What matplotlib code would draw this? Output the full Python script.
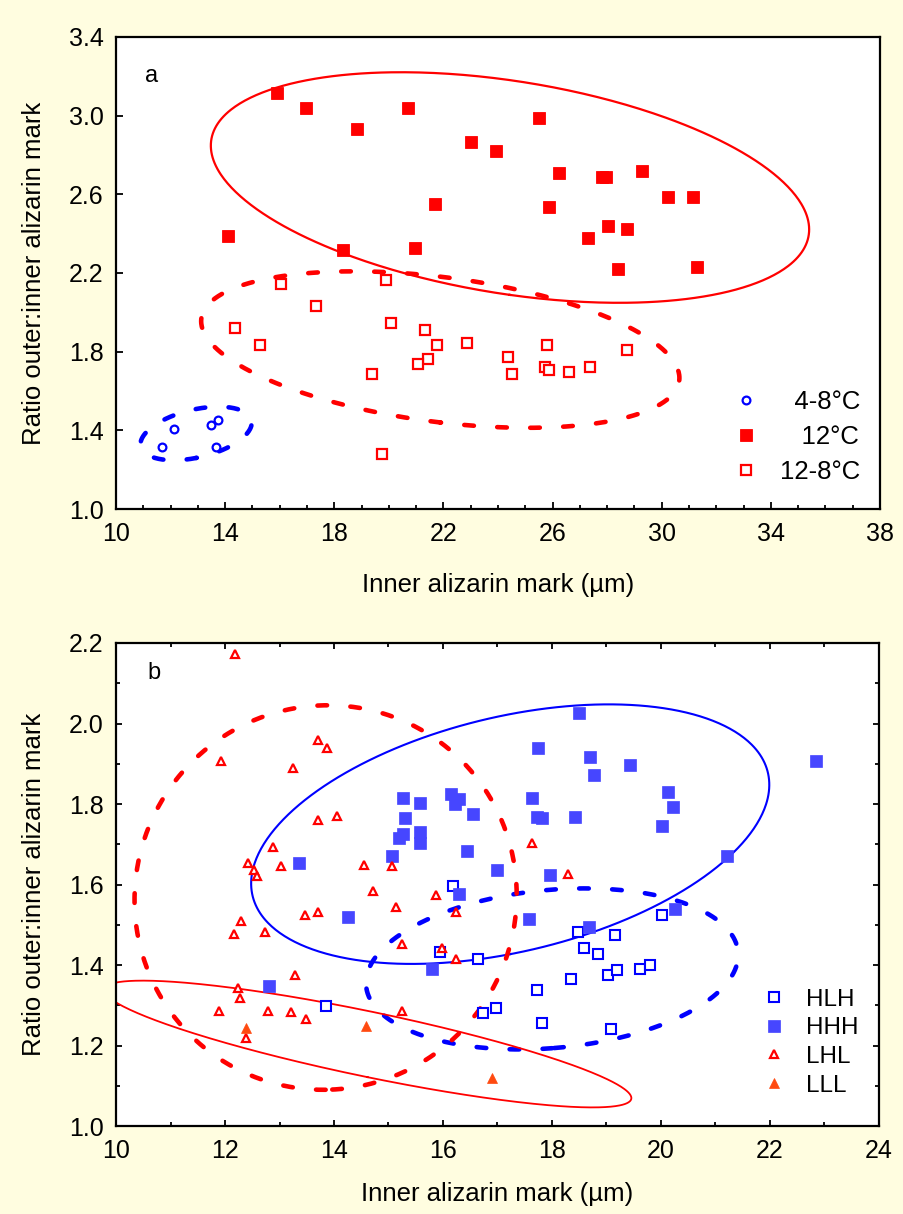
import numpy as np
import matplotlib
matplotlib.use('Agg')
import matplotlib.pyplot as plt
from matplotlib.lines import Line2D
from matplotlib.ticker import MultipleLocator, FormatStrFormatter

plt.rcParams['font.family'] = ['Liberation Sans', 'DejaVu Sans']

# ---------------- Panel a data ----------------
a_48_x = [11.69, 12.14, 13.47, 13.73, 13.65]
a_48_y = [1.317, 1.405, 1.429, 1.452, 1.317]

a_12_x = [15.89, 16.96, 18.82, 20.71, 23.01, 21.69, 14.12, 18.31, 20.96, 25.51,
          23.92, 26.23, 27.80, 27.95, 29.27, 30.24, 31.13, 25.87, 28.02, 28.72,
          27.30, 28.38, 31.30]
a_12_y = [3.117, 3.04, 2.93, 3.04, 2.866, 2.55, 2.39, 2.317, 2.327, 2.99,
          2.82, 2.71, 2.69, 2.69, 2.72, 2.585, 2.585, 2.535, 2.44, 2.425,
          2.38, 2.22, 2.23]

a_128_x = [16.05, 19.89, 17.32, 14.37, 15.28, 20.08, 21.32, 21.78, 22.85, 21.43,
           21.08, 19.39, 19.75, 24.36, 24.52, 25.79, 25.72, 25.88, 26.59, 27.39,
           28.74]
a_128_y = [2.142, 2.164, 2.03, 1.92, 1.833, 1.944, 1.908, 1.832, 1.846, 1.761,
           1.736, 1.686, 1.28, 1.771, 1.685, 1.832, 1.72, 1.707, 1.697, 1.72,
           1.81]

a_labels = ['4-8°C', '12°C', '12-8°C']
a_xticks = [10, 14, 18, 22, 26, 30, 34, 38]
a_yticks = [1.0, 1.4, 1.8, 2.2, 2.6, 3.0, 3.4]

# ---------------- Panel b data ----------------
b_hlh_x = [16.19, 15.94, 16.65, 13.86, 16.73, 16.97, 20.01, 18.48, 19.16, 18.59,
           18.84, 18.34, 19.02, 19.20, 19.62, 19.80, 17.72, 17.82, 19.09]
b_hlh_y = [1.597, 1.432, 1.414, 1.298, 1.280, 1.294, 1.523, 1.481, 1.475, 1.442,
           1.428, 1.366, 1.376, 1.388, 1.389, 1.399, 1.337, 1.255, 1.241]

b_hhh_x = [15.27, 15.58, 16.15, 16.22, 16.30, 15.31, 15.27, 15.20, 15.58, 15.58,
           16.55, 16.44, 15.06, 13.36, 16.99, 18.49, 17.75, 18.70, 18.77, 19.44,
           20.12, 20.22, 20.01, 22.84, 21.21, 17.64, 17.72, 17.82, 18.42, 17.96,
           14.25, 16.30, 15.80, 12.80, 17.58, 18.67, 20.26]
b_hhh_y = [1.816, 1.802, 1.826, 1.800, 1.812, 1.764, 1.726, 1.716, 1.730, 1.703,
           1.774, 1.682, 1.672, 1.653, 1.635, 2.027, 1.940, 1.916, 1.872, 1.897,
           1.830, 1.792, 1.745, 1.907, 1.672, 1.816, 1.768, 1.764, 1.768, 1.624,
           1.519, 1.577, 1.390, 1.347, 1.514, 1.494, 1.539]

b_lhl_x = [12.18, 11.93, 13.70, 13.88, 13.24, 13.70, 14.06, 12.88, 12.42, 12.53,
           12.59, 13.03, 14.55, 15.07, 17.63, 18.29, 14.72, 15.88, 16.24, 15.14,
           13.46, 13.70, 12.29, 12.17, 12.74, 15.25, 15.99, 16.24, 13.28, 12.24,
           12.28, 11.89, 12.78, 13.21, 13.49, 15.25, 12.38]
b_lhl_y = [2.173, 1.908, 1.960, 1.938, 1.889, 1.761, 1.769, 1.693, 1.653, 1.637,
           1.620, 1.645, 1.649, 1.645, 1.703, 1.627, 1.583, 1.575, 1.531, 1.545,
           1.524, 1.531, 1.510, 1.477, 1.483, 1.453, 1.443, 1.415, 1.376, 1.344,
           1.319, 1.286, 1.286, 1.282, 1.265, 1.286, 1.218]

b_lll_x = [12.38, 14.58, 16.89]
b_lll_y = [1.243, 1.249, 1.119]

b_labels = ['HLH', 'HHH', 'LHL', 'LLL']
b_xticks = [10, 12, 14, 16, 18, 20, 22, 24]
b_yticks = [1.0, 1.2, 1.4, 1.6, 1.8, 2.0, 2.2]

# ---------------- helpers ----------------
K = np.sqrt(-2.0 * np.log(0.10))   # 90 % coverage ellipse


def ellipse_xy(x, y, n=500):
    x = np.asarray(x, float)
    y = np.asarray(y, float)
    cov = np.cov(x, y)
    vals, vecs = np.linalg.eigh(cov)
    t = np.linspace(0, 2 * np.pi, n)
    circ = np.vstack([np.cos(t), np.sin(t)])
    pts = vecs @ (np.sqrt(vals)[:, None] * circ) * K
    return x.mean() + pts[0], y.mean() + pts[1]


DASH = (0, (2.1, 5.1))
DLW = 3.3
BG = '#fffde0'
RED = '#ff0000'
BLUE = '#0000ff'
HBLUE = '#4646ff'
ORANGE = '#ff4a10'

fig = plt.figure(figsize=(9.04, 12.14), dpi=100, facecolor=BG)

# ================= Panel a =================
ax1 = fig.add_axes([116 / 904, 1 - 509 / 1214, 764 / 904, 472 / 1214])
ax1.set_facecolor('white')

ex, ey = ellipse_xy(a_12_x, a_12_y)
ax1.plot(ex, ey, color=RED, lw=1.6, zorder=2)
ex, ey = ellipse_xy(a_128_x, a_128_y)
ax1.plot(ex, ey, color=RED, lw=DLW, ls=DASH, dash_capstyle='round', zorder=2)
ex, ey = ellipse_xy(a_48_x, a_48_y)
ax1.plot(ex, ey, color=BLUE, lw=DLW, ls=DASH, dash_capstyle='round', zorder=2)

ax1.plot(a_48_x, a_48_y, ls='none', marker='o', ms=5.6, mfc='white', mec=BLUE, mew=1.6, zorder=3)
ax1.plot(a_12_x, a_12_y, ls='none', marker='s', ms=8.2, mfc=RED, mec=RED, mew=0.6, zorder=3)
ax1.plot(a_128_x, a_128_y, ls='none', marker='s', ms=6.9, mfc='white', mec=RED, mew=1.6, zorder=3)

ax1.set_xlim(10, 38)
ax1.set_ylim(1.0, 3.4)
ax1.set_xticks(a_xticks)
ax1.set_yticks(a_yticks)
ax1.xaxis.set_minor_locator(MultipleLocator(1))
ax1.yaxis.set_major_formatter(FormatStrFormatter('%.1f'))
ax1.tick_params(which='both', direction='in', top=False, right=False,
                labelsize=18, pad=9, width=1.3)
ax1.tick_params(which='major', length=5)
ax1.tick_params(which='minor', length=3)
for s in ax1.spines.values():
    s.set_linewidth(1.6)

ax1.set_xlabel('Inner alizarin mark (µm)', fontsize=18.5)
ax1.set_ylabel('Ratio outer:inner alizarin mark', fontsize=18.5)
ax1.xaxis.set_label_coords(0.5, -0.135)
ax1.yaxis.set_label_coords(-0.092, 0.5)
ax1.text(0.047, 0.917, 'a', transform=ax1.transAxes, fontsize=17, ha='center', va='center')

h_a = [Line2D([], [], ls='none', marker='o', ms=5.6, mfc='white', mec=BLUE, mew=1.6),
       Line2D([], [], ls='none', marker='s', ms=8.2, mfc=RED, mec=RED, mew=0.6),
       Line2D([], [], ls='none', marker='s', ms=6.9, mfc='white', mec=RED, mew=1.6)]
pad_a = ['\u2007', '\u2007\u2008', '']
lab_a = [p + t for p, t in zip(pad_a, a_labels)]
ax1.legend(h_a, lab_a, loc='upper left', bbox_to_anchor=(0.808, 0.252),
           frameon=False, fontsize=18.5, handlelength=1.0, handletextpad=0.8,
           labelspacing=0.42, borderpad=0, borderaxespad=0)

# ================= Panel b =================
ax2 = fig.add_axes([116 / 904, 1 - 1126 / 1214, 763 / 904, 483 / 1214])
ax2.set_facecolor('white')

ex, ey = ellipse_xy(b_hhh_x, b_hhh_y)
ax2.plot(ex, ey, color=BLUE, lw=1.5, zorder=2)
ex, ey = ellipse_xy(b_hlh_x, b_hlh_y)
ax2.plot(ex, ey, color=BLUE, lw=DLW, ls=DASH, dash_capstyle='round', zorder=2)
ex, ey = ellipse_xy(b_lhl_x, b_lhl_y)
ax2.plot(ex, ey, color=RED, lw=DLW, ls=DASH, dash_capstyle='round', zorder=2)
ex, ey = ellipse_xy(b_lll_x, b_lll_y)
ax2.plot(ex, ey, color=RED, lw=1.3, zorder=2)

ax2.plot(b_hlh_x, b_hlh_y, ls='none', marker='s', ms=6.6, mfc='white', mec=BLUE, mew=1.5, zorder=3)
ax2.plot(b_hhh_x, b_hhh_y, ls='none', marker='s', ms=8.2, mfc=HBLUE, mec=HBLUE, mew=0.5, zorder=3)
ax2.plot(b_lhl_x, b_lhl_y, ls='none', marker='^', ms=5.8, mfc='white', mec=RED, mew=1.6, zorder=3)
ax2.plot(b_lll_x, b_lll_y, ls='none', marker='^', ms=7.0, mfc=ORANGE, mec=ORANGE, mew=0.5, zorder=3)

ax2.set_xlim(10, 24)
ax2.set_ylim(1.0, 2.2)
ax2.set_xticks(b_xticks)
ax2.set_yticks(b_yticks)
ax2.xaxis.set_minor_locator(MultipleLocator(1))
ax2.yaxis.set_minor_locator(MultipleLocator(0.1))
ax2.yaxis.set_major_formatter(FormatStrFormatter('%.1f'))
ax2.tick_params(which='both', direction='in', top=True, right=True,
                labelsize=18, pad=9, width=1.3)
ax2.tick_params(which='major', length=4)
ax2.tick_params(which='minor', length=3)
for s in ax2.spines.values():
    s.set_linewidth(1.6)

ax2.set_xlabel('Inner alizarin mark (µm)', fontsize=18.5)
ax2.set_ylabel('Ratio outer:inner alizarin mark', fontsize=18.5)
ax2.xaxis.set_label_coords(0.5, -0.115)
ax2.yaxis.set_label_coords(-0.092, 0.5)
ax2.text(0.05, 0.938, 'b', transform=ax2.transAxes, fontsize=17, ha='center', va='center')

h_b = [Line2D([], [], ls='none', marker='s', ms=6.6, mfc='white', mec=BLUE, mew=1.5),
       Line2D([], [], ls='none', marker='s', ms=8.2, mfc=HBLUE, mec=HBLUE, mew=0.5),
       Line2D([], [], ls='none', marker='^', ms=5.8, mfc='white', mec=RED, mew=1.6),
       Line2D([], [], ls='none', marker='^', ms=7.0, mfc=ORANGE, mec=ORANGE, mew=0.5)]
ax2.legend(h_b, b_labels, loc='upper left', bbox_to_anchor=(0.846, 0.284),
           frameon=False, fontsize=17.5, handlelength=1.0, handletextpad=0.85,
           labelspacing=0.27, borderpad=0, borderaxespad=0)

fig.savefig('out.png', dpi=100, facecolor=BG)
